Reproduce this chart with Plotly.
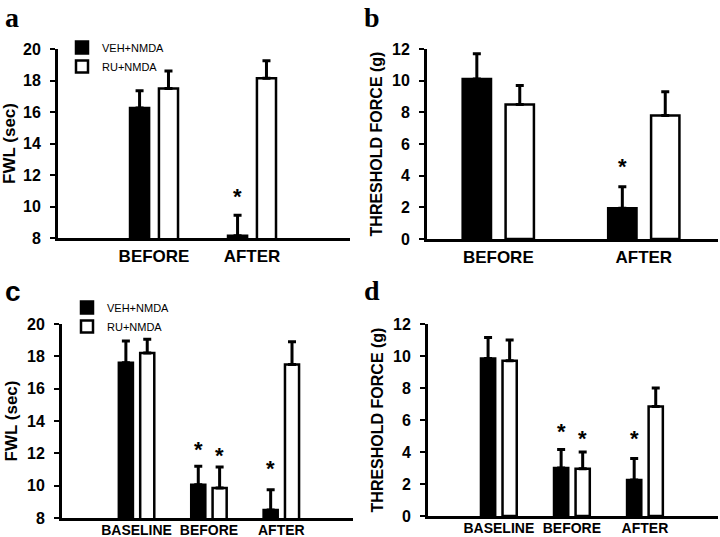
import plotly.graph_objects as go

# ---------------- data ----------------
series_names = ["VEH+NMDA", "RU+NMDA"]
cats_ab = ["BEFORE", "AFTER"]
cats_cd = ["BASELINE", "BEFORE", "AFTER"]

# panel a : FWL (sec)
a_veh = [16.25, 8.15]
a_veh_sem = [1.1, 1.3]
a_ru = [17.5, 18.15]
a_ru_sem = [1.1, 1.1]
a_star_veh = [None, 10.9]
a_star_ru = [None, None]

# panel b : threshold force (g)
b_veh = [10.1, 1.95]
b_veh_sem = [1.6, 1.35]
b_ru = [8.5, 7.8]
b_ru_sem = [1.2, 1.5]
b_star_veh = [None, 4.8]
b_star_ru = [None, None]

# panel c : FWL (sec)
c_veh = [17.6, 10.05, 8.5]
c_veh_sem = [1.35, 1.15, 1.25]
c_ru = [18.2, 9.85, 17.5]
c_ru_sem = [0.85, 1.3, 1.4]
c_star_veh = [None, 12.5, 11.3]
c_star_ru = [None, 12.1, None]

# panel d : threshold force (g)
d_veh = [9.85, 3.0, 2.25]
d_veh_sem = [1.3, 1.15, 1.35]
d_ru = [9.7, 2.95, 6.85]
d_ru_sem = [1.3, 1.05, 1.15]
d_star_veh = [None, 5.55, 5.1]
d_star_ru = [None, 5.1, None]

# ---------------- style ----------------
FONT = "Liberation Sans, Arial, sans-serif"
SERIF = "Liberation Serif, Times New Roman, serif"
BARGAP = 0.41
BARGROUPGAP = 0.34
W, H = 720, 537

fig = go.Figure()

panels = [
    ("", cats_ab, a_veh, a_veh_sem, a_ru, a_ru_sem, a_star_veh, a_star_ru, "legend"),
    ("2", cats_ab, b_veh, b_veh_sem, b_ru, b_ru_sem, b_star_veh, b_star_ru, None),
    ("3", cats_cd, c_veh, c_veh_sem, c_ru, c_ru_sem, c_star_veh, c_star_ru, "legend2"),
    ("4", cats_cd, d_veh, d_veh_sem, d_ru, d_ru_sem, d_star_veh, d_star_ru, None),
]

annotations = []
for suf, cats, veh, veh_sem, ru, ru_sem, sv, sr, leg in panels:
    for name, vals, sem, fill in [(series_names[0], veh, veh_sem, "black"),
                                  (series_names[1], ru, ru_sem, "white")]:
        fig.add_trace(go.Bar(
            x=cats, y=vals, name=name,
            marker=dict(color=fill, line=dict(color="black", width=2.5)),
            error_y=dict(type="data", array=sem, arrayminus=[0] * len(sem),
                         symmetric=False, color="black", thickness=3, width=4),
            xaxis="x" + suf, yaxis="y" + suf,
            showlegend=leg is not None,
            legend=leg if leg else "legend",
        ))
    off = (1 - BARGAP) / 4
    for stars, shift in [(sv, -off), (sr, off)]:
        for i, s in enumerate(stars):
            if s is not None:
                annotations.append(dict(
                    x=i + shift, y=s, xref="x" + suf, yref="y" + suf,
                    text="<b>*</b>", showarrow=False,
                    font=dict(family=FONT, size=22, color="black"),
                    xanchor="center", yanchor="middle", yshift=-4))

def xd(px0, px1):
    return [px0 / W, px1 / W]

def yd(top, bottom):
    return [1 - bottom / H, 1 - top / H]

tick_y = dict(showline=True, linewidth=3, linecolor="black", ticks="outside",
              ticklen=5, tickwidth=2, tickcolor="black", showgrid=False,
              zeroline=False, dtick=2, automargin=False,
              tickfont=dict(family=FONT, size=16, color="black", weight="bold"),
              ticklabelstandoff=6)
tick_x = dict(showline=True, linewidth=3, linecolor="black", ticks="",
              showgrid=False, zeroline=False, type="category", automargin=False)

fig.update_layout(
    width=W, height=H,
    margin=dict(l=0, r=0, t=0, b=0),
    paper_bgcolor="white", plot_bgcolor="white",
    barmode="group", bargap=BARGAP, bargroupgap=BARGROUPGAP,
    font=dict(family=FONT, color="black"),
    xaxis=dict(domain=xd(58, 350), anchor="y", range=[-0.98, 2.0], ticklabelstandoff=1,
               tickfont=dict(family=FONT, size=17, color="black", weight="bold"), **tick_x),
    yaxis=dict(domain=yd(49, 238), anchor="x", range=[8, 20],
               title=dict(text="FWL (sec)", standoff=6,
                          font=dict(family=FONT, size=17, color="black", weight="bold")),
               **tick_y),
    xaxis2=dict(domain=xd(427, 718), anchor="y2", range=[-0.49, 1.51], ticklabelstandoff=1,
                tickfont=dict(family=FONT, size=17, color="black", weight="bold"), **tick_x),
    yaxis2=dict(domain=yd(49, 239), anchor="x2", range=[0, 12],
                title=dict(text="THRESHOLD FORCE (g)", standoff=6,
                           font=dict(family=FONT, size=16, color="black", weight="bold")),
                **tick_y),
    xaxis3=dict(domain=xd(62, 353), anchor="y3", range=[-1.03, 2.99], ticklabelstandoff=-3,
                tickfont=dict(family=FONT, size=14, color="black", weight="bold"), **tick_x),
    yaxis3=dict(domain=yd(324, 518), anchor="x3", range=[8, 20],
                title=dict(text="FWL (sec)", standoff=6,
                           font=dict(family=FONT, size=17, color="black", weight="bold")),
                **tick_y),
    xaxis4=dict(domain=xd(428, 718), anchor="y4", range=[-0.97, 3.0], ticklabelstandoff=-3,
                tickfont=dict(family=FONT, size=14, color="black", weight="bold"), **tick_x),
    yaxis4=dict(domain=yd(324, 516), anchor="x4", range=[0, 12],
                title=dict(text="THRESHOLD FORCE (g)", standoff=6,
                           font=dict(family=FONT, size=16, color="black", weight="bold")),
                **tick_y),
    legend=dict(x=62 / W, y=1 - 33 / H, xanchor="left", yanchor="top",
                bgcolor="rgba(0,0,0,0)", font=dict(family=FONT, size=11, color="black"),
                itemwidth=30, traceorder="normal"),
    legend2=dict(x=67 / W, y=1 - 293 / H, xanchor="left", yanchor="top",
                 bgcolor="rgba(0,0,0,0)", font=dict(family=FONT, size=11, color="black"),
                 itemwidth=30, traceorder="normal"),
)

letters = [("a", 3, 0, SERIF), ("b", 362, 0, SERIF), ("c", 3, 274, FONT), ("d", 362, 273, SERIF)]
for t, px, py, fam in letters:
    annotations.append(dict(x=px / W, y=1 - py / H, xref="paper", yref="paper",
                            text="<b>%s</b>" % t, showarrow=False,
                            xanchor="left", yanchor="top",
                            font=dict(family=fam, size=28, color="black")))

fig.update_layout(annotations=annotations)
fig.write_html("out.html", config={"displayModeBar": False},
               post_script="document.body.style.margin='0px';")
